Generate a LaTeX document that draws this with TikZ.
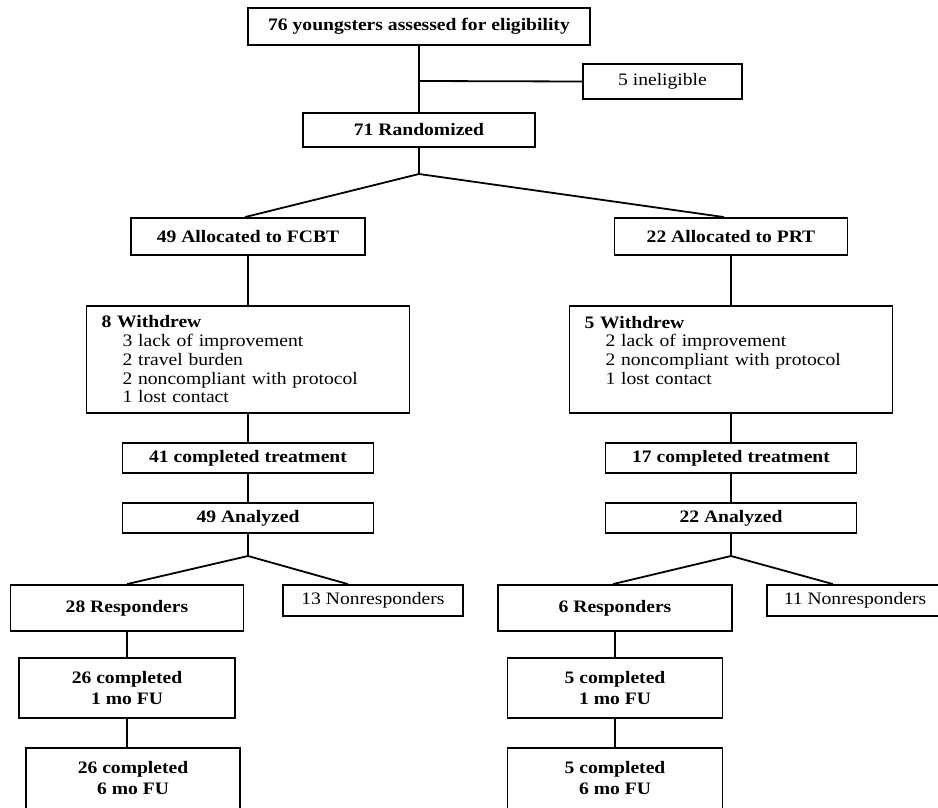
\documentclass[tikz,border=0pt]{standalone}
\usepackage{fontspec}
\setmainfont{Liberation Serif}[FakeStretch=1.12]
\begin{document}
\begin{tikzpicture}[x=1pt,y=-1pt,
  box/.style={draw, line width=1.8pt, rectangle, inner sep=0pt, align=center,
    font=\fontsize{17.5}{21}\selectfont\bfseries},
  plainbox/.style={box, font=\fontsize{17.5}{21}\selectfont},
  wbox/.style={draw, line width=1.8pt, rectangle, inner ysep=0pt, inner xsep=15pt,
    align=left, text width=293pt, minimum height=107pt,
    font=\fontsize{17.5}{18.75}\selectfont},
  link/.style={line width=1.8pt}]
\useasboundingbox (0,0) rectangle (938,808);
% top part
\node[box, minimum width=342pt, minimum height=37pt] (top) at (419,26.5) {76 youngsters assessed for eligibility};
\node[plainbox, minimum width=159pt, minimum height=35pt] (inel) at (662.5,81.5) {5 ineligible};
\node[box, minimum width=232pt, minimum height=34pt] (rand) at (419,130) {71 Randomized};
\node[box, minimum width=234pt, minimum height=37pt] (fcbt) at (248,236.5) {49 Allocated to FCBT};
\node[box, minimum width=233pt, minimum height=37pt] (prt) at (731,236.5) {22 Allocated to PRT};
% withdrew boxes
\node[wbox] (wdl) at (248,359.5) {{\bfseries 8 Withdrew}\\
  \hspace*{21pt}3 lack of improvement\\
  \hspace*{21pt}2 travel burden\\
  \hspace*{21pt}2 noncompliant with protocol\\
  \hspace*{21pt}1 lost contact};
\node[wbox] (wdr) at (731,359.5) {{\bfseries 5 Withdrew}\\
  \hspace*{21pt}2 lack of improvement\\
  \hspace*{21pt}2 noncompliant with protocol\\
  \hspace*{21pt}1 lost contact\\
  \mbox{}};
% completed / analyzed
\node[box, minimum width=251pt, minimum height=30pt] (ctl) at (248,458) {41 completed treatment};
\node[box, minimum width=251pt, minimum height=30pt] (ctr) at (731,458) {17 completed treatment};
\node[box, minimum width=251pt, minimum height=30pt] (anl) at (248,518) {49 Analyzed};
\node[box, minimum width=251pt, minimum height=30pt] (anr) at (731,518) {22 Analyzed};
% responders
\node[box, minimum width=233pt, minimum height=46pt] (rl) at (127,608) {28 Responders};
\node[plainbox, minimum width=180pt, minimum height=31pt] (nl) at (373,600.5) {13 Nonresponders};
\node[box, minimum width=234pt, minimum height=46pt] (rr) at (615,608) {6 Responders};
\node[plainbox, minimum width=176pt, minimum height=31pt] (nr) at (855,600.5) {11 Nonresponders};
% follow up
\node[box, minimum width=216pt, minimum height=60pt] (f1l) at (127,688) {26 completed\\1 mo FU};
\node[box, minimum width=214pt, minimum height=61pt] (f6l) at (133,778.5) {26 completed\\6 mo FU};
\node[box, minimum width=215pt, minimum height=60pt] (f1r) at (615,688) {5 completed\\1 mo FU};
\node[box, minimum width=215pt, minimum height=61pt] (f6r) at (615,778.5) {5 completed\\6 mo FU};
% junctions
\coordinate (jb) at (419,81);
\coordinate (j1) at (419,174);
\coordinate (j2) at (248,556);
\coordinate (j3) at (731,556);
% connectors
\draw[link] (top.south) -- (rand.north);
\draw[link] (jb) -- (inel.west);
\draw[link] (rand.south) -- (j1);
\draw[link] (j1) -- ([xshift=-3pt]fcbt.north);
\draw[link] (j1) -- ([xshift=-7pt]prt.north);
\draw[link] (fcbt.south) -- (wdl.north);
\draw[link] (prt.south) -- (wdr.north);
\draw[link] (wdl.south) -- (ctl.north);
\draw[link] (wdr.south) -- (ctr.north);
\draw[link] (ctl.south) -- (anl.north);
\draw[link] (ctr.south) -- (anr.north);
\draw[link] (anl.south) -- (j2);
\draw[link] (anr.south) -- (j3);
\draw[link] (j2) -- (rl.north);
\draw[link] (j2) -- ([xshift=-25pt]nl.north);
\draw[link] (j3) -- ([xshift=-2pt]rr.north);
\draw[link] (j3) -- ([xshift=-22pt]nr.north);
\draw[link] (rl.south) -- (f1l.north);
\draw[link] (f1l.south) -- (f1l.south |- f6l.north);
\draw[link] (rr.south) -- (f1r.north);
\draw[link] (f1r.south) -- (f6r.north);
\end{tikzpicture}
\end{document}
